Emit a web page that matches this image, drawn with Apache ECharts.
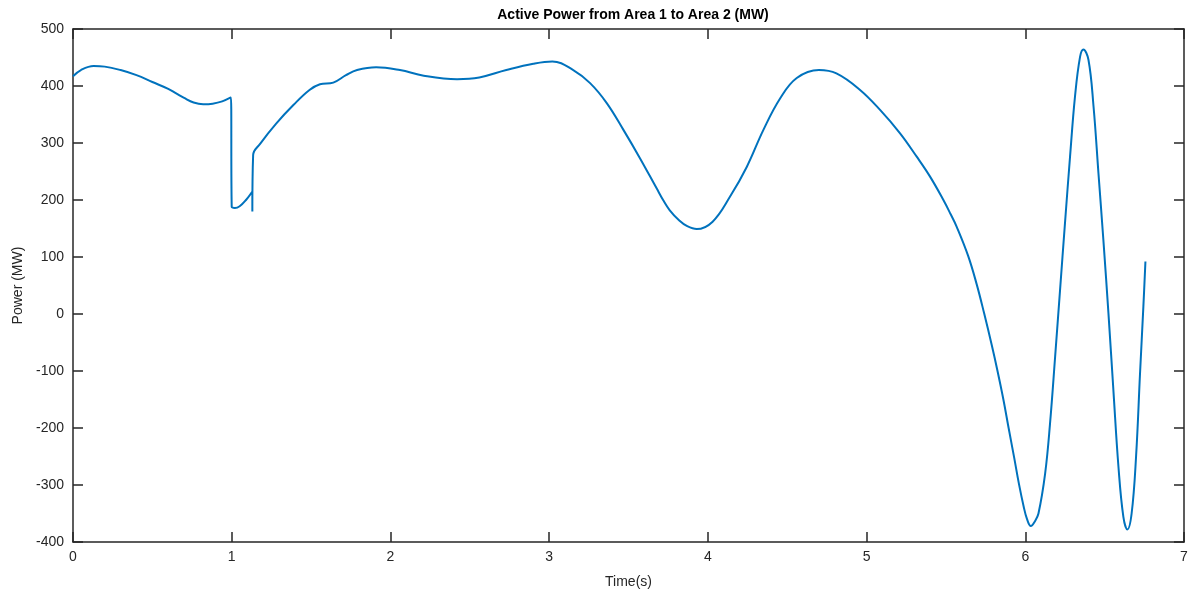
<!DOCTYPE html>
<html>
<head>
<meta charset="utf-8">
<script src="https://cdn.jsdelivr.net/npm/echarts@6/dist/echarts.min.js"></script>
<style>
html,body{margin:0;padding:0;background:#fff;}
#chart{width:1192px;height:596px;}
</style>
</head>
<body>
<div id="chart"></div>
<script>
const chartTitle = 'Active Power from Area 1 to Area 2 (MW)';
const xName = 'Time(s)';
const yName = 'Power (MW)';
const timeValues = [
  0, 0.05, 0.13, 0.2, 0.3, 0.4, 0.5, 0.6, 0.65, 0.7, 0.76, 0.82, 0.88, 0.94, 0.995,
  1.0, 1.02, 1.05, 1.09, 1.13, 1.13, 1.135, 1.18, 1.28, 1.39, 1.49, 1.556,
  1.64, 1.72, 1.79, 1.91, 2.06, 2.21, 2.42, 2.56, 2.73, 2.90, 3.02, 3.152,
  3.258, 3.363, 3.468, 3.573, 3.678, 3.72, 3.76, 3.82, 3.87, 3.93, 4.03, 4.14, 4.245, 4.35,
  4.455, 4.56, 4.70, 4.81, 4.959, 5.085, 5.211, 5.316, 5.40, 5.484, 5.53, 5.568,
  5.64, 5.694, 5.74, 5.789, 5.825, 5.862, 5.895, 5.93, 5.96, 5.99, 6.01, 6.035,
  6.06, 6.083, 6.125, 6.156, 6.188, 6.219, 6.25, 6.282, 6.313, 6.345, 6.366,
  6.398, 6.43, 6.461, 6.492, 6.524, 6.555, 6.587, 6.618, 6.643, 6.67,
  6.698, 6.723, 6.744, 6.757
];
const powerValues = [
  417, 428, 435, 434, 428, 419, 407, 395, 387, 379, 371, 368, 369, 373, 380,
  188, 186, 189, 200, 215, 180, 279, 299, 334, 367, 393, 403,
  406, 419, 428, 433, 428, 418, 412, 415, 428, 439, 443, 428,
  405, 370, 323, 273, 220, 199, 182, 164, 154, 149, 162, 206, 258, 323,
  378, 414, 428, 422, 393, 358, 317, 276, 241, 200, 175, 153,
  102, 52, 2, -55, -100, -150, -200, -252, -298, -338, -359, -372,
  -364, -350, -280, -192, -75, 42, 159, 276, 381, 451, 464,
  446, 364, 247, 130, 1, -133, -268, -356, -378, -350,
  -250, -104, 13, 92
];
const xTicks = [0, 1, 2, 3, 4, 5, 6, 7];
const yTicks = [-400, -300, -200, -100, 0, 100, 200, 300, 400, 500];

const seriesData = timeValues.map((t, i) => [t, powerValues[i]]);
const axisColor = '#262626';
const fontFam = '"Liberation Sans", Arial, Helvetica, sans-serif';

const chart = echarts.init(document.getElementById('chart'));
const baseX = {
  type: 'value', min: xTicks[0], max: xTicks[xTicks.length - 1], interval: 1,
  axisLine: { show: true, onZero: false, lineStyle: { color: axisColor, width: 1.5 } },
  axisTick: { show: true, inside: true, length: 10, lineStyle: { color: axisColor, width: 1.5 } },
  splitLine: { show: false }
};
const baseY = {
  type: 'value', min: yTicks[0], max: yTicks[yTicks.length - 1], interval: 100,
  axisLine: { show: true, onZero: false, lineStyle: { color: axisColor, width: 1.5 } },
  axisTick: { show: true, inside: true, length: 10, lineStyle: { color: axisColor, width: 1.5 } },
  splitLine: { show: false }
};
chart.setOption({
  animation: false,
  backgroundColor: '#ffffff',
  title: {
    text: chartTitle, left: 628, top: 3, textAlign: 'center',
    textStyle: { fontFamily: fontFam, fontWeight: 'bold', fontSize: 14, color: '#000' }
  },
  grid: { left: 73, right: 8, top: 29, bottom: 54, containLabel: false },
  xAxis: [
    Object.assign({}, baseX, {
      position: 'bottom',
      name: xName, nameLocation: 'middle', nameGap: 33,
      nameTextStyle: { fontFamily: fontFam, fontSize: 14, color: '#262626' },
      axisLabel: { show: true, margin: 8, fontFamily: fontFam, fontSize: 14, color: '#262626' }
    }),
    Object.assign({}, baseX, { position: 'top', axisLabel: { show: false } })
  ],
  yAxis: [
    Object.assign({}, baseY, {
      position: 'left',
      name: yName, nameLocation: 'middle', nameGap: 48, nameRotate: 90,
      nameTextStyle: { fontFamily: fontFam, fontSize: 14, color: '#262626' },
      axisLabel: { show: true, margin: 9, fontFamily: fontFam, fontSize: 14, color: '#262626' }
    }),
    Object.assign({}, baseY, { position: 'right', axisLabel: { show: false } })
  ],
  series: [{
    type: 'line',
    xAxisIndex: 0, yAxisIndex: 0,
    data: seriesData,
    showSymbol: false,
    smooth: 0.4,
    lineStyle: { color: '#0072BD', width: 2 }
  }]
});
</script>
</body>
</html>
